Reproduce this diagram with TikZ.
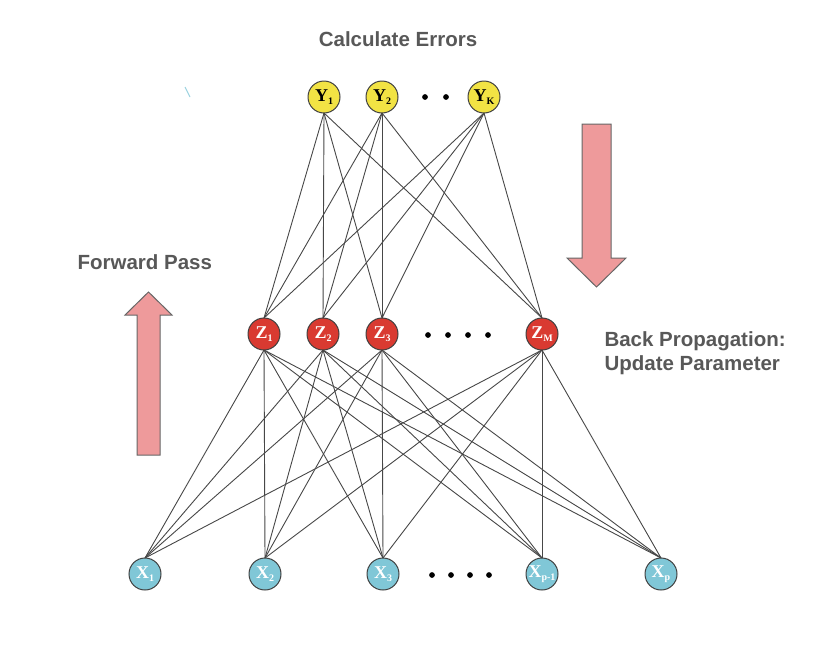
\documentclass[tikz,border=0pt]{standalone}
\usepackage{fontspec}
\setmainfont{Liberation Serif}
\newfontfamily\labelfont{Liberation Sans}
\usetikzlibrary{calc}
\definecolor{ycol}{HTML}{F2E344}
\definecolor{zcol}{HTML}{D93A31}
\definecolor{xcol}{HTML}{80C7D7}
\definecolor{arrowpink}{HTML}{EE9A9B}
\definecolor{textgray}{HTML}{585858}
\newcommand\nsub[2]{#1\raisebox{-0.35ex}{\fontsize{10}{10}\selectfont #2}}
\tikzset{
  neuron/.style={circle,draw=black!75,line width=1pt,minimum size=32pt,inner sep=0pt,
    font=\bfseries\fontsize{18}{18}\selectfont},
  ynode/.style={neuron,fill=ycol,text=black},
  znode/.style={neuron,fill=zcol,text=white},
  xnode/.style={neuron,fill=xcol,text=white},
  link/.style={draw=black!72,line width=0.9pt},
  caption/.style={text=textgray,font=\labelfont\bfseries\fontsize{20.5}{23.5}\selectfont,align=left},
  bigarrow/.style={fill=arrowpink,draw=black!60,line width=1pt}
}

\begin{document}
\begin{tikzpicture}[x=1pt,y=-1pt]
\def\radius{2.6}
\useasboundingbox (0,0) rectangle (822,659);

% coordinates of the three layers
\coordinate (y1) at (324,97);
\coordinate (y2) at (382,97);
\coordinate (yk) at (484,97);
\coordinate (z1) at (264,334);
\coordinate (z2) at (323,334);
\coordinate (z3) at (382,334);
\coordinate (zm) at (542,334);
\coordinate (x1) at (145,574);
\coordinate (x2) at (265,574);
\coordinate (x3) at (383,574);
\coordinate (xq) at (542,574);
\coordinate (xp) at (661,574);

% links (bottom point to top point)
\foreach \y in {y1,y2,yk}
  \foreach \z in {z1,z2,z3,zm}
    \draw[link] ($(\y)+(0,16)$) -- ($(\z)+(0,-16)$);
\foreach \z in {z1,z2,z3,zm}
  \foreach \x in {x1,x2,x3,xq,xp}
    \draw[link] ($(\z)+(0,16)$) -- ($(\x)+(0,-16)$);

% output layer
\node[ynode] (Y1) at (y1) {\nsub{Y}{1}};
\node[ynode] (Y2) at (y2) {\nsub{Y}{2}};
\node[ynode] (YK) at (yk) {\nsub{Y}{K}};

% hidden layer
\node[znode] (Z1) at (z1) {\nsub{Z}{1}};
\node[znode] (Z2) at (z2) {\nsub{Z}{2}};
\node[znode] (Z3) at (z3) {\nsub{Z}{3}};
\node[znode] (ZM) at (zm) {\nsub{Z}{M}};

% input layer
\node[xnode] (X1) at (x1) {\nsub{X}{1}};
\node[xnode] (X2) at (x2) {\nsub{X}{2}};
\node[xnode] (X3) at (x3) {\nsub{X}{3}};
\node[xnode] (XQ) at (xq) {\nsub{X}{p-1}};
\node[xnode] (XP) at (xp) {\nsub{X}{p}};

% dots
\filldraw (425,97) circle (\radius pt);
\filldraw (446,97) circle (\radius pt);

\filldraw (428,335) circle (\radius pt);
\filldraw (448,335) circle (\radius pt);
\filldraw (468,335) circle (\radius pt);
\filldraw (488,335) circle (\radius pt);

\filldraw (432,575) circle (\radius pt);
\filldraw (451,575) circle (\radius pt);
\filldraw (470,575) circle (\radius pt);
\filldraw (489,575) circle (\radius pt);

% big arrows
\filldraw[bigarrow] (137,455) -- (137,315) -- (125,315) -- (148.5,292)
  -- (172,315) -- (160,315) -- (160,455) -- cycle;
\filldraw[bigarrow] (582,124) -- (611,124) -- (611,258) -- (626,258)
  -- (596.5,287) -- (567,258) -- (582,258) -- cycle;

% captions
\node[caption] (calc) at (398,39) {Calculate Errors};
\node[caption,anchor=west] (fwd) at (74,262) {Forward Pass};
\node[caption,anchor=west] (back) at (601,353) {Back Propagation:\\Update Parameter};

\draw[xcol!80,line width=1pt] (185,87) -- (190,97);
\end{tikzpicture}
\end{document}
